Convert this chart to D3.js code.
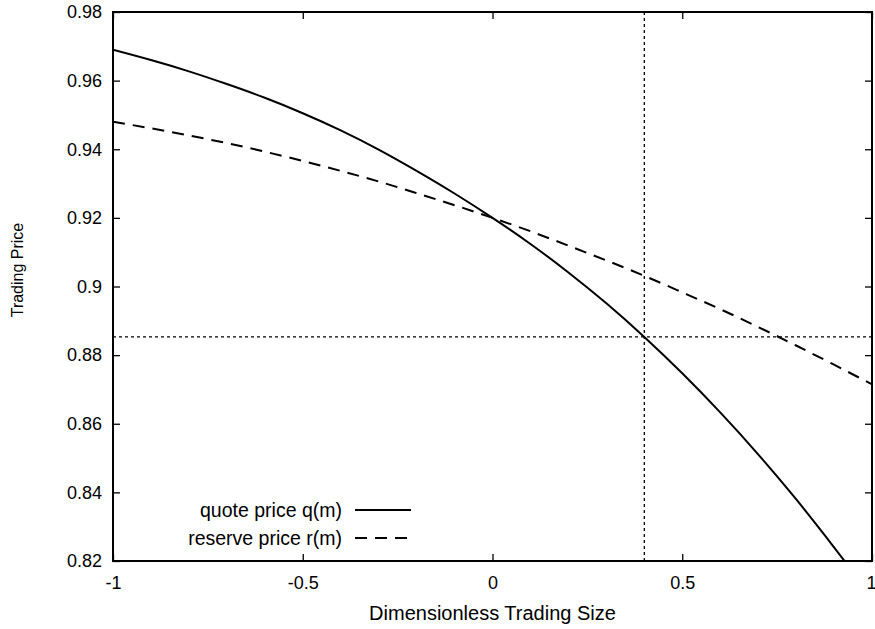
<!DOCTYPE html>
<html><head><meta charset="utf-8">
<script src="https://cdn.jsdelivr.net/npm/d3@7"></script>
<style>body{margin:0;background:#fff}svg{display:block}text{font-family:"Liberation Sans",Arial,sans-serif;fill:#000}</style>
</head><body><svg id="c" width="875" height="629"></svg>
<script>
const mValues = [-1,-0.9,-0.8,-0.7,-0.6,-0.5,-0.4,-0.3,-0.2,-0.1,0,0.1,0.2,0.3,0.4,0.5,0.6,0.7,0.8,0.9,1];
const quotePrice = [0.9690,0.9660,0.9627,0.9590,0.9550,0.9505,0.9455,0.9399,0.9337,0.9271,0.9200,0.9124,0.9041,0.8951,0.8853,0.8747,0.8633,0.8511,0.8380,0.8240,0.8095];
const reservePrice = [0.9480,0.9461,0.9440,0.9418,0.9393,0.9366,0.9337,0.9306,0.9272,0.9237,0.9200,0.9161,0.9119,0.9076,0.9031,0.8983,0.8934,0.8882,0.8828,0.8772,0.8715];
const xTicks = [-1,-0.5,0,0.5,1];
const yTicks = [0.82,0.84,0.86,0.88,0.90,0.92,0.94,0.96,0.98];
const markerM = 0.4;
const markerPrice = 0.8853;
const seriesNames = ["quote price q(m)","reserve price r(m)"];

const svg = d3.select("#c");
const L=113,R=872,T=12,B=561;
const FS=18;
const x = d3.scaleLinear().domain([-1,1]).range([L,R]);
const y = d3.scaleLinear().domain([0.82,0.98]).range([B,T]);

svg.append("defs").append("clipPath").attr("id","clip").append("rect")
  .attr("x",L).attr("y",T).attr("width",R-L).attr("height",B-T);

const fmtY = d => d===0.9 ? "0.9" : d3.format(".2f")(d);
const fmtX = d => String(d);

const ax = svg.append("g");
const xb = ax.append("g").attr("transform",`translate(0,${B})`)
  .call(d3.axisBottom(x).tickValues(xTicks).tickSize(-7).tickPadding(15).tickFormat(fmtX));
ax.append("g").attr("transform",`translate(0,${T})`)
  .call(d3.axisTop(x).tickValues(xTicks).tickSize(-7).tickFormat(""));
ax.append("g").attr("transform",`translate(${L},0)`)
  .call(d3.axisLeft(y).tickValues(yTicks).tickSize(-7).tickPadding(11).tickFormat(fmtY));
ax.append("g").attr("transform",`translate(${R},0)`)
  .call(d3.axisRight(y).tickValues(yTicks).tickSize(-7).tickFormat(""));
ax.selectAll(".domain").remove();
ax.selectAll(".tick line").attr("stroke","#000").attr("stroke-width",1.3);
ax.selectAll(".tick text").attr("font-family","Liberation Sans, Arial, sans-serif").attr("fill","#000").attr("font-size",FS);
xb.selectAll(".tick text").filter(d=>d===1).attr("text-anchor","end").attr("dx","0.22em");

const g = svg.append("g").attr("clip-path","url(#clip)");
g.append("line").attr("x1",x(markerM)).attr("x2",x(markerM)).attr("y1",T).attr("y2",B)
  .attr("stroke","#000").attr("stroke-width",1.3).attr("stroke-dasharray","3,3");
g.append("line").attr("x1",L).attr("x2",R).attr("y1",y(markerPrice)).attr("y2",y(markerPrice))
  .attr("stroke","#000").attr("stroke-width",1.3).attr("stroke-dasharray","3,3");

const line = d3.line().x(d=>x(d[0])).y(d=>y(d[1])).curve(d3.curveNatural);
g.append("path").datum(mValues.map((m,i)=>[m,quotePrice[i]])).attr("d",line)
  .attr("fill","none").attr("stroke","#000").attr("stroke-width",2);
g.append("path").datum(mValues.map((m,i)=>[m,reservePrice[i]])).attr("d",line)
  .attr("fill","none").attr("stroke","#000").attr("stroke-width",2).attr("stroke-dasharray","12,8");

svg.append("rect").attr("x",L).attr("y",T).attr("width",R-L).attr("height",B-T)
  .attr("fill","none").attr("stroke","#000").attr("stroke-width",2);

const leg = svg.append("g").attr("font-size",19.5);
const dashes = [null,"12,8"];
seriesNames.forEach((n,i)=>{
  const cy = 510 + i*28;
  leg.append("text").attr("x",342).attr("y",cy).attr("dy","0.35em").attr("text-anchor","end").text(n);
  leg.append("line").attr("x1",355).attr("x2",411).attr("y1",cy).attr("y2",cy)
    .attr("stroke","#000").attr("stroke-width",2).attr("stroke-dasharray",dashes[i]);
});

svg.append("text").attr("x",(L+R)/2).attr("y",613).attr("dy","0.35em").attr("text-anchor","middle")
  .attr("font-size",20).text("Dimensionless Trading Size");
svg.append("text").attr("transform",`translate(17,270) rotate(-90)`).attr("dy","0.35em")
  .attr("text-anchor","middle").attr("font-size",16).text("Trading Price");
</script></body></html>
